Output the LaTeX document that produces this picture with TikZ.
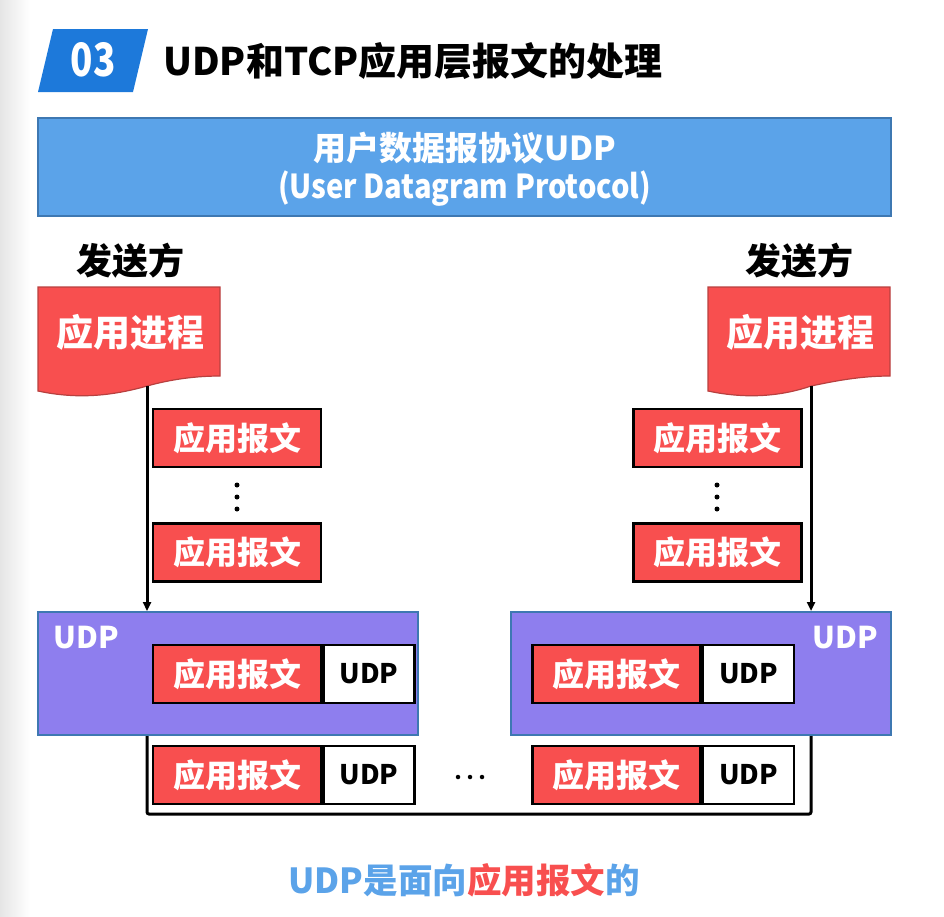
\documentclass[tikz,border=0pt]{standalone}
\usepackage{fontspec}
\setmainfont{Noto Sans CJK SC}
\usetikzlibrary{arrows.meta,positioning}
\definecolor{badgeblue}{HTML}{1D79DA}
\definecolor{bannerblue}{HTML}{5BA3E9}
\definecolor{edgeblue}{HTML}{3E78B2}
\definecolor{msgred}{HTML}{F84F4F}
\definecolor{docedge}{HTML}{B8403F}
\definecolor{udppurple}{HTML}{8E7EEE}
\tikzset{
  fs/.style={font=\fontsize{#1}{#1}\selectfont\bfseries},
  msgbox/.style={draw=black, line width=2.5pt, fill=msgred, minimum width=168pt, minimum height=58pt, inner sep=0pt, text=white, fs=32},
  hdrbox/.style={draw=black, line width=2.5pt, fill=white, minimum width=91pt, minimum height=58pt, inner sep=0pt, text=black, fs=27},
  udpbox/.style={draw=edgeblue, line width=2pt, fill=udppurple, minimum width=380pt, minimum height=123pt, inner sep=0pt},
  docbody/.style={draw=docedge, line width=1.2pt, fill=msgred},
  flow/.style={line width=3pt, draw=black},
  arr/.style={flow, -{Triangle[length=9pt,width=8pt]}},
  dotsym/.style={circle, fill=black, inner sep=0pt, minimum size=5pt},
}
\begin{document}
\begin{tikzpicture}[x=1pt,y=-1pt]
\useasboundingbox (0,0) rectangle (944,916);
% left shadow
\shade[left color=black!10, right color=white] (0,0) rectangle (30,916);

% header badge
\fill[badgeblue] (53,29) -- (148,29) -- (133,92) -- (38,92) -- cycle;
\node[text=white, fs=46] (badge) at (93,60) {\scalebox{0.8}[1]{03}};
\node[anchor=west, fs=38, inner sep=0pt] (title) at (163,61) {UDP和TCP应用层报文的处理};

% banner
\node[draw=edgeblue, line width=2pt, fill=bannerblue, minimum width=853pt, minimum height=98pt, inner sep=0pt] (banner) at (464.5,167) {};
\node[text=white, fs=33] (b1) at (464.5,148) {用户数据报协议UDP};
\node[text=white, fs=33] (b2) at (464.5,189) {\scalebox{0.88}[1]{(User Datagram Protocol)}};

% senders
\node[fs=36] (sendL) at (130,261) {发送方};
\node[fs=36] (sendR) at (799,261) {发送方};

% documents
\path[docbody] (38,287) -- (220,287) -- (220,376) .. controls (190,376) and (165,381) .. (147,386) .. controls (115,395) and (80,400) .. (38,391) -- cycle;
\node[text=white, fs=37] (procL) at (130,332) {应用进程};
\coordinate (procLout) at (147,386);
\path[docbody] (708,287) -- (890,287) -- (890,376) .. controls (860,376) and (835,381) .. (811,386) .. controls (785,395) and (750,400) .. (708,391) -- cycle;
\node[text=white, fs=37] (procR) at (800,332) {应用进程};
\coordinate (procRout) at (811,386);

% message boxes
\node[msgbox] (mL1) at (237,438) {应用报文};
\node[msgbox] (mL2) at (237,552.5) {应用报文};
\node[msgbox] (mR1) at (717.5,438) {应用报文};
\node[msgbox] (mR2) at (717.5,552.5) {应用报文};
\foreach \yy [count=\i] in {485,497,509}{
  \node[dotsym] (dl\i) at (237,\yy) {};
  \node[dotsym] (dr\i) at (717,\yy) {};
}

% UDP boxes
\node[udpbox] (udpL) at (228,673.5) {};
\node[text=white, fs=30, anchor=center] (udpLlab) at (86,638) {UDP};
\node[udpbox] (udpR) at (700.5,673.5) {};
\node[text=white, fs=30, anchor=center] (udpRlab) at (845,638) {UDP};

% arrows into UDP
\draw[arr] (procLout) -- (procLout |- udpL.north);
\draw[arr] (procRout) -- (procRout |- udpR.north);

% inner datagrams
\node[msgbox] (iL) at (237,674) {应用报文};
\node[hdrbox, anchor=west] (iLh) at (iL.east) {UDP};
\node[msgbox] (iR) at (616.5,674) {应用报文};
\node[hdrbox, anchor=west] (iRh) at (iR.east) {UDP};

% bottom datagrams
\node[msgbox] (oL) at (237,775) {应用报文};
\node[hdrbox, anchor=west] (oLh) at (oL.east) {UDP};
\node[msgbox] (oR) at (616.5,775) {应用报文};
\node[hdrbox, anchor=west] (oRh) at (oR.east) {UDP};
\foreach \xx [count=\i] in {458,470,482}{
  \node[dotsym, minimum size=4.5pt] (hd\i) at (\xx,777) {};
}

% bottom connector
\coordinate (cL) at (147,814);
\coordinate (cR) at (811,814);
\draw[flow, rounded corners=2pt] (procLout |- udpL.south) -- (cL) -- (cR) -- (procRout |- udpR.south);

% conclusion
\node[fs=34.5, inner sep=0pt] (concl) at (464,880) {\textcolor{bannerblue}{UDP是面向}\textcolor{msgred}{应用报文}\textcolor{bannerblue}{的}};
\end{tikzpicture}
\end{document}
